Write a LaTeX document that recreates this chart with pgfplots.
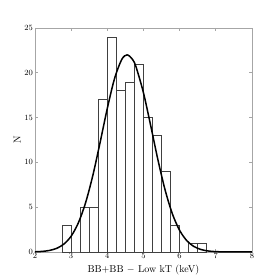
\documentclass[border=0pt]{standalone}
\usepackage{pgfplots}
\pgfplotsset{compat=1.18}
\begin{document}
\begin{tikzpicture}
\begin{axis}[
  scale only axis, width=217pt, height=224pt,
  xmin=2, xmax=8, ymin=0, ymax=25,
  xtick={2,3,4,5,6,7,8}, ytick={0,5,10,15,20,25},
  tick align=inside, major tick length=3pt,
  axis line style={gray!70, line width=0.8pt},
  every tick/.style={gray!70, line width=0.6pt},
  tick label style={font=\footnotesize},
  xticklabel style={yshift=2pt},
  yticklabel style={xshift=1.5pt},
  xlabel={BB+BB $-$ Low kT (keV)}, ylabel={N},
  label style={font=\normalsize},
  xlabel style={yshift=1pt},
  ylabel style={yshift=-3pt},
  clip=false,
]
\path (axis description cs:-0.161,-0.125) rectangle (axis description cs:1.129,1.125);
\addplot[ybar interval, draw=black!75, fill=none, line width=0.5pt] coordinates {
(2.75,3) (3.0,0) (3.25,5) (3.5,5) (3.75,17) (4.0,24) (4.25,18) (4.5,19)
(4.75,21) (5.0,15) (5.25,13) (5.5,9) (5.75,3) (6.0,0) (6.25,1) (6.5,1) (6.75,0)
};
\addplot[black, line width=1.5pt, smooth] coordinates {
(2.0,0.024) (2.2,0.067) (2.4,0.172) (2.6,0.406) (2.8,0.883) (3.0,1.76)
(3.2,3.25) (3.4,5.49) (3.6,8.53) (3.8,12.19) (4.0,16.01) (4.2,19.34)
(4.4,21.49) (4.55,22.0) (4.7,21.49) (4.8,20.60) (5.0,17.78) (5.2,14.12) (5.4,10.30)
(5.6,6.91) (5.8,4.26) (6.0,2.42) (6.2,1.26) (6.4,0.605) (6.6,0.267)
(6.8,0.108) (7.0,0.040) (7.2,0.014) (7.4,0.004) (7.6,0.001) (8.0,0.0)
};
\end{axis}
\end{tikzpicture}
\end{document}
